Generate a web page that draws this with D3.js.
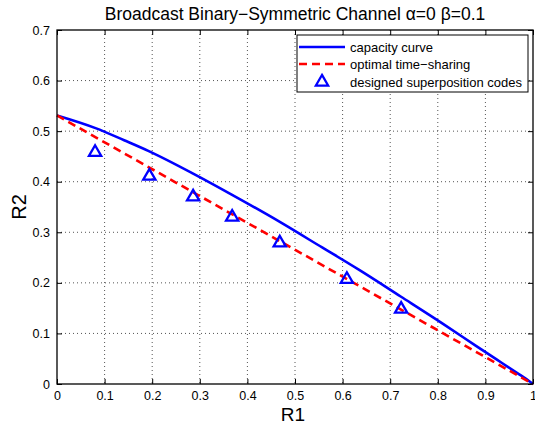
<!DOCTYPE html>
<html>
<head>
<meta charset="utf-8">
<script src="https://cdn.jsdelivr.net/npm/d3@7"></script>
<style>
  body { margin: 0; background: #fff; }
  text { font-family: "Liberation Sans", Arial, sans-serif; fill: #000; }
</style>
</head>
<body>
<svg id="chart" width="535" height="426"></svg>
<script>
// capacity curve
const capR1 = [0, 0.081, 0.141, 0.194, 0.286, 0.366, 0.469, 0.557, 0.634, 0.722, 0.811, 0.881, 0.934, 0.971, 0.993, 1];
const capR2 = [0.531, 0.506, 0.482, 0.460, 0.416, 0.375, 0.320, 0.270, 0.226, 0.173, 0.119, 0.075, 0.042, 0.019, 0.005, 0];
// time-sharing line end points
const tsR1 = [0, 1];
const tsR2 = [0.531, 0];
// designed superposition codes
const codeR1 = [0.080, 0.194, 0.286, 0.368, 0.468, 0.609, 0.723];
const codeR2 = [0.460, 0.413, 0.372, 0.332, 0.281, 0.209, 0.150];

const xTicks = [0, 0.1, 0.2, 0.3, 0.4, 0.5, 0.6, 0.7, 0.8, 0.9, 1];
const yTicks = [0, 0.1, 0.2, 0.3, 0.4, 0.5, 0.6, 0.7];
const legendLabels = ["capacity curve", "optimal time\u2212sharing", "designed superposition codes"];

const svg = d3.select("#chart");
const mLeft = 57, mRight = 533, mTop = 30, mBottom = 384;

const x = d3.scaleLinear().domain([0, 1]).range([mLeft, mRight]);
const y = d3.scaleLinear().domain([0, 0.7]).range([mBottom, mTop]);

// grid
svg.append("g").selectAll("line").data(xTicks.slice(1, -1)).join("line")
  .attr("x1", d => x(d)).attr("x2", d => x(d)).attr("y1", mTop).attr("y2", mBottom)
  .attr("stroke", "#555").attr("stroke-width", 1).attr("stroke-dasharray", "1,3");
svg.append("g").selectAll("line").data(yTicks.slice(1, -1)).join("line")
  .attr("y1", d => y(d)).attr("y2", d => y(d)).attr("x1", mLeft).attr("x2", mRight)
  .attr("stroke", "#555").attr("stroke-width", 1).attr("stroke-dasharray", "1,3");

// axes with inward ticks
const fmt = d => d === 0 ? "0" : d === 1 ? "1" : d3.format(".1f")(d);
const xAxis = svg.append("g").attr("transform", `translate(0,${mBottom})`)
  .call(d3.axisBottom(x).tickValues(xTicks).tickFormat(fmt).tickSizeInner(-5).tickSizeOuter(0).tickPadding(7));
const xTop = svg.append("g").attr("transform", `translate(0,${mTop})`)
  .call(d3.axisTop(x).tickValues(xTicks).tickFormat("").tickSizeInner(-5).tickSizeOuter(0));
const yAxis = svg.append("g").attr("transform", `translate(${mLeft},0)`)
  .call(d3.axisLeft(y).tickValues(yTicks).tickFormat(fmt).tickSizeInner(-5).tickSizeOuter(0).tickPadding(7));
const yRight = svg.append("g").attr("transform", `translate(${mRight},0)`)
  .call(d3.axisRight(y).tickValues(yTicks).tickFormat("").tickSizeInner(-5).tickSizeOuter(0));

[xAxis, xTop, yAxis, yRight].forEach(g => {
  g.select(".domain").remove();
  g.selectAll("line").attr("stroke", "#000");
  g.selectAll("text").style("font-size", "12.5px").attr("fill", "#000")
    .style("font-family", "'Liberation Sans', Arial, sans-serif");
});

// data lines
const lineGen = d3.line().x(d => x(d[0])).y(d => y(d[1]));
svg.append("path").datum(capR1.map((v, i) => [v, capR2[i]]))
  .attr("d", lineGen.curve(d3.curveMonotoneX)).attr("fill", "none")
  .attr("stroke", "#0000ff").attr("stroke-width", 2.6);
svg.append("path").datum(tsR1.map((v, i) => [v, tsR2[i]]))
  .attr("d", d3.line().x(d => x(d[0])).y(d => y(d[1]))).attr("fill", "none")
  .attr("stroke", "#ff0000").attr("stroke-width", 2.6).attr("stroke-dasharray", "8,5");

// triangle markers
const tri = d3.symbol().type(d3.symbolTriangle).size(65);
svg.append("g").selectAll("path").data(codeR1.map((v, i) => [v, codeR2[i]])).join("path")
  .attr("transform", d => `translate(${x(d[0])},${y(d[1]) + 1})`)
  .attr("d", tri).attr("fill", "none").attr("stroke", "#0000ff").attr("stroke-width", 2.3);

// plot box
svg.append("rect").attr("x", mLeft).attr("y", mTop).attr("width", mRight - mLeft).attr("height", mBottom - mTop)
  .attr("fill", "none").attr("stroke", "#000").attr("stroke-width", 1.3);

// title & labels
svg.append("text").attr("x", 295).attr("y", 20).attr("text-anchor", "middle")
  .style("font-size", "17.5px").text("Broadcast Binary\u2212Symmetric Channel \u03b1=0 \u03b2=0.1");
svg.append("text").attr("x", 293).attr("y", 421).attr("text-anchor", "middle")
  .style("font-size", "19px").text("R1");
svg.append("text").attr("transform", `translate(26,${(mTop + mBottom) / 2}) rotate(-90)`)
  .attr("text-anchor", "middle").style("font-size", "20px").text("R2");

// legend
const lg = svg.append("g");
lg.append("rect").attr("x", 297).attr("y", 35).attr("width", 231).attr("height", 57)
  .attr("fill", "#fff").attr("stroke", "#000").attr("stroke-width", 1);
const rows = [47, 64, 82];
lg.append("line").attr("x1", 299).attr("x2", 345).attr("y1", rows[0]).attr("y2", rows[0])
  .attr("stroke", "#0000ff").attr("stroke-width", 2.6);
lg.append("line").attr("x1", 299).attr("x2", 345).attr("y1", rows[1]).attr("y2", rows[1])
  .attr("stroke", "#ff0000").attr("stroke-width", 2.6).attr("stroke-dasharray", "8,5");
lg.append("path").attr("transform", `translate(322,${rows[2]})`).attr("d", tri)
  .attr("fill", "none").attr("stroke", "#0000ff").attr("stroke-width", 2.3);
lg.selectAll("text.lab").data(legendLabels).join("text").attr("class", "lab")
  .attr("x", 350).attr("y", (d, i) => rows[i] + 4.5).style("font-size", "13px").text(d => d);
</script>
</body>
</html>
